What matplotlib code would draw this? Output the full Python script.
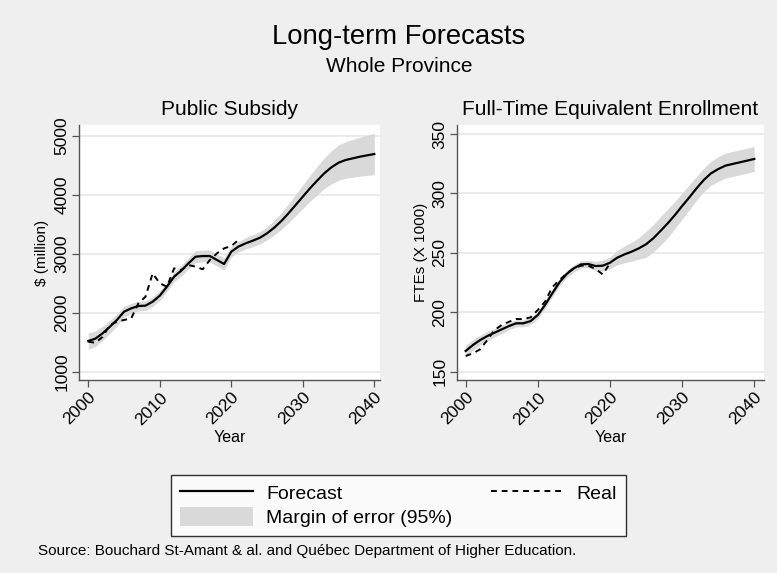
import matplotlib
matplotlib.use("Agg")
import matplotlib.pyplot as plt
from matplotlib.lines import Line2D
from matplotlib.patches import Patch
import numpy as np

plt.rcParams['font.family'] = ['Liberation Sans', 'DejaVu Sans']

years = list(range(2000, 2041))
real_years = list(range(2000, 2022))

# Public subsidy ($ million)
sub_forecast = [1520, 1560, 1650, 1760, 1876, 2017, 2073, 2113, 2119, 2186,
                2288, 2441, 2610, 2712, 2836, 2949, 2960, 2960, 2893, 2825,
                3034, 3120, 3175, 3220, 3270, 3345, 3440, 3553, 3684, 3825,
                3966, 4107, 4237, 4362, 4463, 4542, 4588, 4616, 4644, 4667, 4689]
sub_margin = [140, 130, 120, 110, 100, 90, 85, 80, 80, 80,
              80, 80, 85, 90, 95, 100, 100, 100, 100, 100,
              90, 90, 95, 100, 105, 110, 125, 140, 160, 180,
              200, 220, 240, 260, 280, 300, 310, 320, 330, 340, 350]
sub_real = [1508, 1490, 1590, 1790, 1847, 1876, 1904, 2158, 2270, 2667,
            2497, 2441, 2751, 2723, 2808, 2780, 2735, 2893, 3006, 3090, 3130, 3232]

# Full-time equivalent enrollment (x 1000)
fte_forecast = [167.4, 172.4, 176.6, 180.0, 182.8, 185.6, 188.4, 190.7, 190.7, 192.6,
                197.7, 206.1, 215.9, 225.2, 232.2, 237.0, 240.3, 240.6, 238.9, 239.2,
                241.7, 245.9, 248.7, 251.0, 253.8, 257.2, 262.2, 268.4, 274.8, 281.8,
                289.4, 296.7, 304.3, 311.3, 316.9, 320.5, 323.4, 324.8, 326.2, 327.6, 329.0]
fte_margin = [5, 4.5, 4, 4, 3.5, 3.5, 3, 3, 3, 3,
              3, 3, 3, 3, 3, 3, 3, 3, 4, 4.5,
              5, 6, 7, 8, 9, 11, 11.5, 12, 12, 11.5,
              11, 10.5, 10, 10, 10, 10.5, 10.5, 10.5, 10.5, 10.5, 10.5]
fte_real = [163.2, 165.4, 168.8, 176.6, 185.0, 189.3, 192.0, 194.3, 194.3, 195.7,
            201.9, 208.9, 221.0, 227.1, 232.7, 237.0, 239.2, 239.2, 236.4, 231.9, 241.2]
fte_real_years = list(range(2000, 2021))

xticks = [2000, 2010, 2020, 2030, 2040]
sub_yticks = [1000, 2000, 3000, 4000, 5000]
fte_yticks = [150, 200, 250, 300, 350]

BG = '#efefef'
BAND = '#d9d9d9'
AX = '#555555'
W, H = 777, 573

fig = plt.figure(figsize=(7.77, 5.73), dpi=100, facecolor=BG)

def style(ax, ylim, xlim, yticks, ylabel, title, ylab_x):
    ax.set_facecolor('white')
    ax.set_xlim(*xlim)
    ax.set_ylim(*ylim)
    ax.set_xticks(xticks)
    ax.set_yticks(yticks)
    ax.set_xticklabels([str(t) for t in xticks], rotation=45, ha='right',
                       rotation_mode='anchor', fontsize=12.5)
    ax.set_yticklabels([str(t) for t in yticks], rotation=90, va='center', fontsize=12.5)
    for s in ['top', 'right']:
        ax.spines[s].set_visible(False)
    for s in ['left', 'bottom']:
        ax.spines[s].set_color(AX)
        ax.spines[s].set_linewidth(1.0)
    ax.tick_params(colors=AX, labelcolor='black', length=5, width=0.9, pad=2)
    ax.grid(axis='y', color='#e8e8e8', linewidth=1.2)
    ax.set_axisbelow(True)
    ax.set_xlabel('Year', fontsize=11.5)
    ax.set_ylabel(ylabel, fontsize=11)
    ax.xaxis.set_label_coords(0.5, (380 - 438) / 255)
    ax.xaxis.label.set_va('center')
    ax.yaxis.set_label_coords(ylab_x, 0.5)
    ax.yaxis.label.set_va('center')
    ax.text(0.5, (380 - 110) / 255, title, transform=ax.transAxes,
            ha='center', va='center', fontsize=15)

ax1 = fig.add_axes([79/W, 1-380/H, 301/W, 255/H])
f = np.array(sub_forecast); m = np.array(sub_margin)
ax1.fill_between(years, f - m, f + m, color=BAND, linewidth=0)
ax1.plot(years, sub_forecast, color='black', linewidth=1.6)
ax1.plot(real_years, sub_real, color='black', linewidth=1.4, linestyle=(0, (3, 2.5)))
style(ax1, (859, 5181), (1998.7, 2040.8), sub_yticks, '$ (million)', 'Public Subsidy',
      (42 - 79) / 301)

ax2 = fig.add_axes([457/W, 1-380/H, 307/W, 255/H])
f = np.array(fte_forecast); m = np.array(fte_margin)
ax2.fill_between(years, f - m, f + m, color=BAND, linewidth=0)
ax2.plot(years, fte_forecast, color='black', linewidth=1.6)
ax2.plot(fte_real_years, fte_real, color='black', linewidth=1.4, linestyle=(0, (3, 2.5)))
style(ax2, (143, 357.6), (1998.8, 2041.35), fte_yticks, 'FTEs (X 1000)',
      'Full-Time Equivalent Enrollment', (421 - 457) / 307)

fig.text(399/W, 1-37/H, 'Long-term Forecasts', ha='center', va='center', fontsize=19.8)
fig.text(399/W, 1-67/H, 'Whole Province', ha='center', va='center', fontsize=15)

handles = [Line2D([], [], color='black', linewidth=1.6),
           Patch(facecolor=BAND, edgecolor='none'),
           Line2D([], [], color='black', linewidth=1.4, linestyle=(0, (3, 2.5))),
           Patch(facecolor='none', edgecolor='none')]
labels = ['Forecast', 'Margin of error (95%)', 'Real', '']
leg = fig.legend(handles, labels, ncol=2, mode='expand',
                 bbox_to_anchor=(171/W, 1-536/H, 455/W, 65/H), loc='lower left',
                 fontsize=14, frameon=True, fancybox=False, handlelength=3.76, handleheight=1.1,
                 borderaxespad=0, borderpad=0.45, labelspacing=0.2, handletextpad=0.67)
leg.get_frame().set_edgecolor('black')
leg.get_frame().set_linewidth(1.0)

fig.text(38/W, 1-551/H, 'Source: Bouchard St-Amant & al. and Québec Department of Higher Education.',
         ha='left', va='center', fontsize=11)

fig.savefig('out.png', dpi=100, facecolor=BG)
